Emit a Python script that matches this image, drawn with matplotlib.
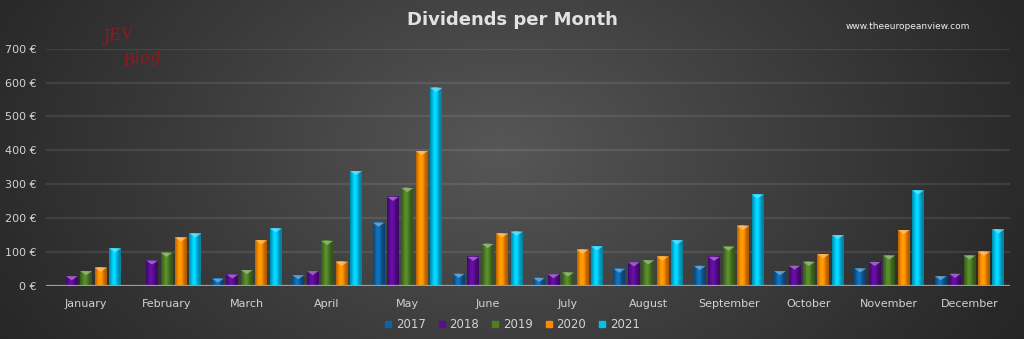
import numpy as np
import matplotlib
matplotlib.use("Agg")
import matplotlib.pyplot as plt
from matplotlib.colors import to_rgb
from matplotlib.patches import Polygon
from matplotlib.lines import Line2D

plt.rcParams.update({
    "font.family": "DejaVu Sans",
    "font.size": 8,
})

months = ["January", "February", "March", "April", "May", "June", "July",
          "August", "September", "October", "November", "December"]
years = ["2017", "2018", "2019", "2020", "2021"]

div_2017 = [0, 0, 22, 32, 187, 36, 24, 51, 59, 44, 52, 29]
div_2018 = [29, 75, 34, 44, 263, 86, 35, 70, 86, 60, 71, 36]
div_2019 = [44, 98, 47, 133, 289, 124, 40, 76, 116, 71, 90, 90]
div_2020 = [54, 143, 135, 71, 398, 155, 107, 87, 177, 94, 165, 101]
div_2021 = [111, 155, 170, 339, 584, 160, 117, 135, 270, 150, 282, 167]

yticks = [0, 100, 200, 300, 400, 500, 600, 700]

series = [div_2017, div_2018, div_2019, div_2020, div_2021]
colors = ["#0d64a8", "#5b0c94", "#4e7d26", "#ff8a00", "#00c0ee"]

fig = plt.figure(figsize=(10.24, 3.39), dpi=100)

# radial dark background
bg = fig.add_axes([0, 0, 1, 1], zorder=0)
bg.set_axis_off()
yy, xx = np.mgrid[0:339, 0:1024]
r = np.sqrt(((xx - 500) / 620.0) ** 2 + ((yy - 150) / 420.0) ** 2)
shade = np.clip(1 - r, 0, 1) ** 1.1
lo, hi = 0.14, 0.34
img = lo + (hi - lo) * shade
bg.imshow(np.dstack([img, img, img]), aspect="auto", extent=[0, 1, 0, 1],
          interpolation="bilinear")
bg.set_xlim(0, 1)
bg.set_ylim(0, 1)

ax = fig.add_axes([0.045, 0.1563, 0.941, 0.7003], zorder=1)
ax.patch.set_alpha(0)
for s in ax.spines.values():
    s.set_visible(False)

x = np.arange(len(months))
step = 0.18
width = 0.148

# cylinder-like shading across a bar
u = np.linspace(0, 1, 32)
prof = 0.66 + 0.5 * np.exp(-((u - 0.42) / 0.3) ** 2)

for j, (vals, col) in enumerate(zip(series, colors)):
    base = np.array(to_rgb(col))
    grad = np.clip(base[None, :] * prof[:, None], 0, 1)[None, :, :]
    cap = np.clip(base + (1 - base) * 0.45, 0, 1)
    for i, v in enumerate(vals):
        if v <= 0:
            continue
        x0 = x[i] + (j - 2) * step - width / 2
        ax.imshow(grad, extent=[x0, x0 + width, 0, v], aspect="auto",
                  interpolation="bilinear", zorder=3)
        ax.add_patch(Polygon([(x0, v), (x0 + width, v),
                              (x0 + width * 0.5, v - 12)],
                             closed=True, facecolor=cap, edgecolor="none",
                             alpha=0.8, zorder=4))

ax.set_xlim(-0.5, len(months) - 0.5)
ax.set_ylim(0, 700)
ax.set_yticks(yticks)
ax.set_yticklabels([f"{t} €" for t in yticks], color="#d2d2d2")
ax.set_xticks(x)
ax.set_xticklabels(months, color="#d2d2d2")
ax.tick_params(length=0, pad=7)
ax.tick_params(axis="x", pad=9)
ax.grid(axis="y", color="white", alpha=0.09, linewidth=1.6, zorder=1)
ax.set_axisbelow(True)
ax.axhline(0, color="#9c9c9c", linewidth=1.6, zorder=5)

fig.text(0.5, 0.94, "Dividends per Month", ha="center", va="center",
         fontsize=13, fontweight="bold", color="#e2e2e2")
fig.text(0.887, 0.923, "www.theeuropeanview.com", ha="center", va="center",
         fontsize=6.5, color="#f0f0f0")
fig.text(0.100, 0.895, "JEV", ha="left", va="center", fontsize=12,
         family="DejaVu Serif", style="italic", color="#8e1a20", rotation=8)
fig.text(0.119, 0.825, "Blog", ha="left", va="center", fontsize=12,
         family="DejaVu Serif", style="italic", color="#8e1a20", rotation=8)

handles = [Line2D([], [], linestyle="none", marker="s", markersize=5,
                  markerfacecolor=c, markeredgecolor=c) for c in colors]
leg = fig.legend(handles, years, loc="center", bbox_to_anchor=(0.5, 0.043),
                 ncol=5, frameon=False, handlelength=0.7, handletextpad=0.3,
                 columnspacing=1.0, fontsize=8.5)
for t in leg.get_texts():
    t.set_color("#d2d2d2")

fig.savefig("out.png", dpi=100, facecolor="#2a2a2a")
